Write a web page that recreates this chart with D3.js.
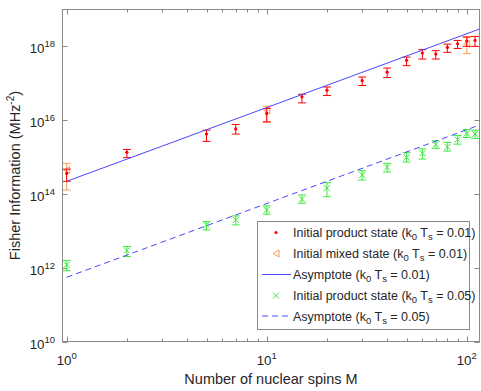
<!DOCTYPE html>
<html><head><meta charset="utf-8">
<script src="https://cdn.jsdelivr.net/npm/d3@7"></script>
<style>body{margin:0;background:#fff}svg{display:block;font-family:"Liberation Sans",Arial,Helvetica,sans-serif}</style>
</head><body><svg id="c" width="481" height="391"></svg>
<script>
// ---------- data ----------
const spinsM = [1,2,5,7,10,15,20,30,40,50,60,70,80,90,100,110];
const productVal001 = [3.6e14,1.34e15,4.2e15,5.8e15,1.52e16,4.3e16,6.5e16,1.18e17,2.0e17,4.2e17,6.6e17,6.2e17,9.4e17,1.18e18,1.39e18,1.45e18];
const productLo001  = [2.2e14,9.6e14,2.66e15,4.2e15,9.0e15,2.94e16,4.65e16,8.7e16,1.43e17,3.0e17,4.54e17,4.54e17,6.9e17,8.8e17,1.0e18,1.0e18];
const productHi001  = [4.7e14,1.61e15,5.37e15,7.66e15,2.07e16,5.05e16,7.94e16,1.48e17,2.59e17,5.14e17,8.15e17,7.65e17,1.15e18,1.45e18,1.78e18,1.86e18];
const mixedM   = [1,10,100];
const mixedVal = [4.45e14,1.86e16,1.18e18];
const mixedLo  = [1.28e14,8.8e15,6.35e17];
const mixedHi  = [6.76e14,2.39e16,1.86e18];
const productVal005 = [1.2e12,2.94e12,1.45e13,1.98e13,3.7e13,7.2e13,1.43e14,3.27e14,5.27e14,9.8e14,1.26e15,2.2e15,1.9e15,3.0e15,4.37e15,4.19e15];
const productLo005  = [8.3e11,2.02e12,1.06e13,1.45e13,2.83e13,5.6e13,8.45e13,2.39e14,3.94e14,7.33e14,8.83e14,1.72e15,1.45e15,2.24e15,3.4e15,3.2e15];
const productHi005  = [1.57e12,3.77e12,1.78e13,2.54e13,4.74e13,9.4e13,2.02e14,4.27e14,6.76e14,1.31e15,1.67e15,2.76e15,2.5e15,3.86e15,5.6e15,5.37e15];
const asymM      = [1,116];
const asymVal001 = [2.2e14,2.96e18];
const asymVal005 = [5.5e11,7.4e15];
const xTickExp = [0,1,2];
const yTickExp = [10,12,14,16,18];
const legendLabels = [
  ["Initial product state (k","0"," T","s"," = 0.01)"],
  ["Initial mixed state (k","0"," T","s"," = 0.01)"],
  ["Asymptote (k","0"," T","s"," = 0.01)"],
  ["Initial product state (k","0"," T","s"," = 0.05)"],
  ["Asymptote (k","0"," T","s"," = 0.05)"]
];

// ---------- setup ----------
const svg = d3.select("#c");
const L = 62.5, R = 479.5, T = 9.5, B = 341.5;
const x = d3.scaleLog().domain([0.953, 115.8]).range([L, R]);
const y = d3.scaleLog().domain([1e10, 1e19]).range([B, T]);
const axisCol = "#8a8a8a", textCol = "#262626";
const RED = "#ff0000", ORANGE = "#ff9a55", BLUE = "#4848ff", GREEN = "#3ee83e";

svg.append("defs").append("clipPath").attr("id","clip")
  .append("rect").attr("x",L).attr("y",T).attr("width",R-L).attr("height",B-T);

// axes box
svg.append("rect").attr("x",L).attr("y",T).attr("width",R-L).attr("height",B-T)
  .attr("fill","none").attr("stroke",axisCol).attr("stroke-width",1);

// x ticks (major + minor), inward on bottom and top
const xMinor = [];
[1,10,100].forEach(d => { for (let k=1;k<10;k++){ const v=d*k; if (v>=0.953 && v<=115.8) xMinor.push(v);} });
const tickG = svg.append("g").attr("stroke",axisCol).attr("stroke-width",1);
xMinor.forEach(v => {
  const major = [1,10,100].includes(v);
  const len = major ? 5 : 3;
  const px = Math.round(x(v)) + 0.5;
  tickG.append("line").attr("x1",px).attr("x2",px).attr("y1",B).attr("y2",B-len);
  tickG.append("line").attr("x1",px).attr("x2",px).attr("y1",T).attr("y2",T+len);
});
yTickExp.forEach(e => {
  const py = Math.round(y(Math.pow(10,e))) + 0.5;
  tickG.append("line").attr("x1",L).attr("x2",L+5).attr("y1",py).attr("y2",py);
  tickG.append("line").attr("x1",R).attr("x2",R-5).attr("y1",py).attr("y2",py);
});

// tick labels
xTickExp.forEach(e => {
  const t = svg.append("text").attr("x", x(Math.pow(10,e))).attr("y", 365)
    .attr("text-anchor","middle").attr("fill",textCol).attr("font-size",13.3);
  t.append("tspan").text("10");
  t.append("tspan").attr("dy",-6).attr("font-size",9.5).text(e);
});
yTickExp.forEach(e => {
  const t = svg.append("text").attr("x", 55).attr("y", y(Math.pow(10,e)) + 7)
    .attr("text-anchor","end").attr("fill",textCol).attr("font-size",13.3);
  t.append("tspan").text("10");
  t.append("tspan").attr("dy",-6).attr("font-size",9.5).text(e);
});

// axis labels
svg.append("text").attr("x",(L+R)/2).attr("y",384).attr("text-anchor","middle")
  .attr("fill",textCol).attr("font-size",14.5).text("Number of nuclear spins M");
const yl = svg.append("text").attr("transform",`translate(20,${(T+B)/2}) rotate(-90)`)
  .attr("text-anchor","middle").attr("fill",textCol).attr("font-size",14.5);
yl.append("tspan").text("Fisher Information (MHz");
yl.append("tspan").attr("dy",-6).attr("font-size",10).text("-2");
yl.append("tspan").attr("dy",6).text(")");

// ---------- plot content ----------
const plot = svg.append("g").attr("clip-path","url(#clip)");
const line = d3.line().x(d => x(d[0])).y(d => y(d[1]));

function errorBars(g, Ms, lo, hi, col) {
  Ms.forEach((m,i) => {
    const px = x(m), y0 = y(lo[i]), y1 = y(hi[i]);
    g.append("path").attr("d",`M${px},${y0}V${y1}M${px-4},${y0}H${px+4}M${px-4},${y1}H${px+4}`)
      .attr("stroke",col).attr("stroke-width",1).attr("fill","none");
  });
}
function dot(g, px, py){ g.append("circle").attr("cx",px).attr("cy",py).attr("r",1.6).attr("fill",RED); }
function tri(g, px, py){ g.append("path").attr("d",`M${px-3},${py}L${px+3},${py-3.5}L${px+3},${py+3.5}Z`)
  .attr("fill","none").attr("stroke",ORANGE).attr("stroke-width",1); }
function cross(g, px, py){ g.append("path").attr("d",`M${px-3},${py-3}L${px+3},${py+3}M${px-3},${py+3}L${px+3},${py-3}`)
  .attr("stroke",GREEN).attr("stroke-width",1).attr("fill","none"); }

const gMixed = plot.append("g");
errorBars(gMixed, mixedM, mixedLo, mixedHi, ORANGE);
mixedM.forEach((m,i) => tri(gMixed, x(m), y(mixedVal[i])));

const gRed = plot.append("g");
errorBars(gRed, spinsM, productLo001, productHi001, RED);
spinsM.forEach((m,i) => dot(gRed, x(m), y(productVal001[i])));

plot.append("path").datum(asymM.map((m,i)=>[m,asymVal001[i]])).attr("d",line)
  .attr("stroke",BLUE).attr("stroke-width",1).attr("fill","none");

const gGreen = plot.append("g");
errorBars(gGreen, spinsM, productLo005, productHi005, GREEN);
spinsM.forEach((m,i) => cross(gGreen, x(m), y(productVal005[i])));

plot.append("path").datum(asymM.map((m,i)=>[m,asymVal005[i]])).attr("d",line)
  .attr("stroke",BLUE).attr("stroke-width",1).attr("stroke-dasharray","6,4").attr("fill","none");

// ---------- legend ----------
const lg = svg.append("g");
lg.append("rect").attr("x",257.5).attr("y",221.5).attr("width",212).attr("height",108)
  .attr("fill","#fff").attr("stroke",axisCol).attr("stroke-width",1);
const rowY = [232.5,253.5,274.5,295.5,316];
const mx = 276;
dot(lg, mx, rowY[0]);
tri(lg, mx, rowY[1]);
lg.append("line").attr("x1",262).attr("x2",291).attr("y1",rowY[2]).attr("y2",rowY[2]).attr("stroke",BLUE).attr("stroke-width",1);
cross(lg, mx, rowY[3]);
lg.append("line").attr("x1",262).attr("x2",291).attr("y1",rowY[4]).attr("y2",rowY[4]).attr("stroke",BLUE).attr("stroke-width",1).attr("stroke-dasharray","6,4");
legendLabels.forEach((parts,i) => {
  const t = lg.append("text").attr("x",293).attr("y",rowY[i]+4.5).attr("fill",textCol).attr("font-size",12.5);
  t.append("tspan").text(parts[0]);
  t.append("tspan").attr("dy",3).attr("font-size",9.5).text(parts[1]);
  t.append("tspan").attr("dy",-3).text(parts[2]);
  t.append("tspan").attr("dy",3).attr("font-size",9.5).text(parts[3]);
  t.append("tspan").attr("dy",-3).text(parts[4]);
});
</script></body></html>
